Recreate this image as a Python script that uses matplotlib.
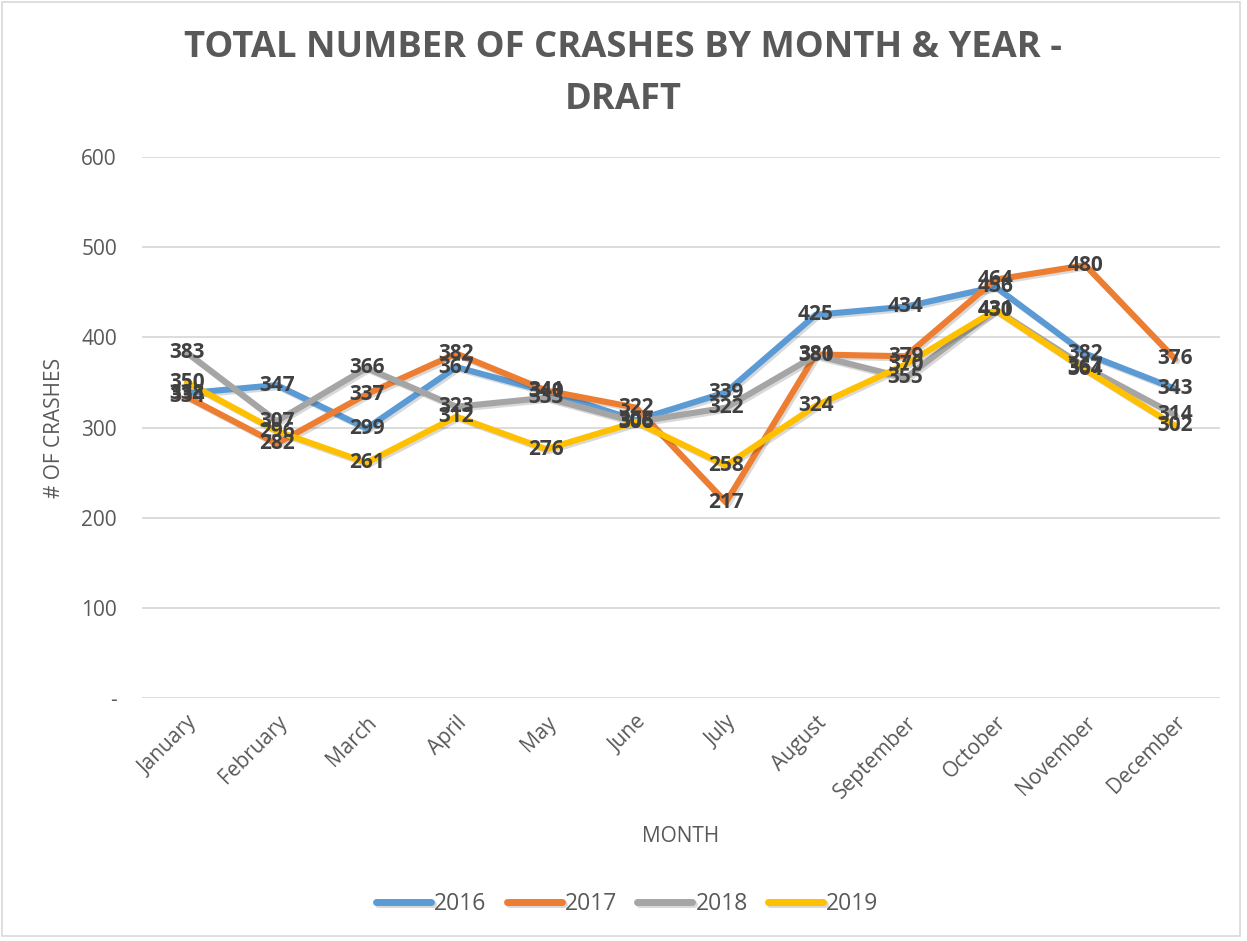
import matplotlib
matplotlib.use("Agg")
import matplotlib.pyplot as plt
import matplotlib.patheffects as pe
from matplotlib.patches import Rectangle
from matplotlib.ticker import FixedLocator

months = ["January", "February", "March", "April", "May", "June", "July",
          "August", "September", "October", "November", "December"]
years = ["2016", "2017", "2018", "2019"]
crashes_2016 = [338, 347, 299, 367, 340, 308, 339, 425, 434, 456, 382, 343]
crashes_2017 = [334, 282, 337, 382, 341, 322, 217, 381, 379, 464, 480, 376]
crashes_2018 = [383, 307, 366, 323, 333, 306, 322, 380, 355, 431, 367, 314]
crashes_2019 = [350, 296, 261, 312, 276, 306, 258, 324, 370, 430, 364, 302]
series = [crashes_2016, crashes_2017, crashes_2018, crashes_2019]
colors = ["#5B9BD5", "#ED7D31", "#A5A5A5", "#FFC000"]
yticks = [0, 100, 200, 300, 400, 500, 600]
ytick_labels = ["-", "100", "200", "300", "400", "500", "600"]

plt.rcParams['font.family'] = ['Open Sans', 'DejaVu Sans']

fig = plt.figure(figsize=(12.47, 9.41), dpi=100)
ax = fig.add_axes([142/1247, 1-698/941, (1220-142)/1247, (698-157)/941])

x = list(range(len(months)))
for vals, col, yr in zip(series, colors, years):
    ax.plot(x, vals, color=col, lw=4.4, label=yr, solid_capstyle='round', solid_joinstyle='round',
            path_effects=[pe.SimpleLineShadow(offset=(1.5, -1.5), shadow_color='black', alpha=0.15),
                          pe.Normal()], zorder=3)
for vals in series:
    for xi, v in zip(x, vals):
        ax.text(xi, v, str(v), ha='center', va='center', fontsize=15, fontweight='bold',
                color='#404040', zorder=5)

ax.set_xlim(-0.5, 11.5)
ax.set_ylim(0, 600)
ax.yaxis.set_major_locator(FixedLocator(yticks))
ax.set_yticklabels(ytick_labels)
ax.set_xticks(x)
ax.set_xticklabels(months, rotation=45, ha='right', rotation_mode='anchor')
ax.tick_params(axis='both', length=0, colors='#595959', labelsize=15)
ax.tick_params(axis='y', pad=18)
ax.tick_params(axis='x', pad=10)
ax.grid(axis='y', color='#D9D9D9', lw=1.3)
ax.set_axisbelow(True)
for s in ax.spines.values():
    s.set_visible(False)

ax.set_xlabel("MONTH", fontsize=15, color='#595959', labelpad=17)
ax.set_ylabel("# OF CRASHES", fontsize=15, color='#595959', va='center')
ax.yaxis.set_label_coords((55 - 142) / 1078, 0.5)

fig.text(0.5, 1-48/941, "TOTAL NUMBER OF CRASHES BY MONTH & YEAR -", ha='center', va='center',
         fontsize=26.2, fontweight='bold', color='#595959')
fig.text(0.5, 1-100/941, "DRAFT", ha='center', va='center',
         fontsize=26.2, fontweight='bold', color='#595959')

leg = fig.legend(loc='center', bbox_to_anchor=(0.503, 1-904/941), ncol=4, frameon=False,
                 fontsize=16.5, handlelength=2.4, columnspacing=0.87, handletextpad=0.15)
for t in leg.get_texts():
    t.set_color('#595959')
for h in leg.legend_handles:
    h.set_linewidth(5)
    h.set_solid_capstyle('round')

fig.patches.append(Rectangle((0.002, 0.005), 0.992, 0.993, transform=fig.transFigure,
                             fill=False, edgecolor='#D9D9D9', lw=1.2))

fig.savefig("out.png", dpi=100, facecolor='white')
